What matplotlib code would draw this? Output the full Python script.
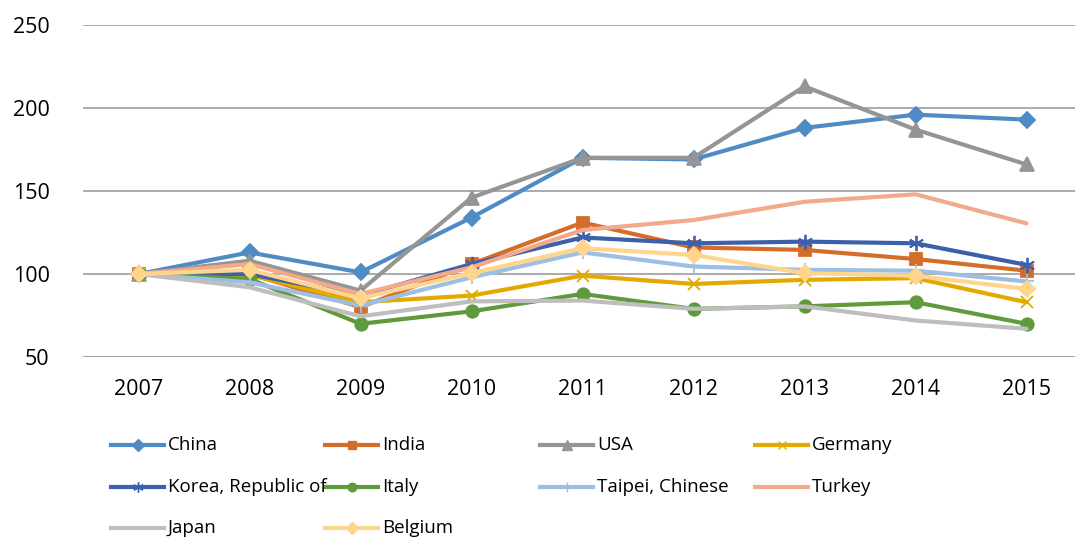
import matplotlib
matplotlib.use("Agg")
import matplotlib.pyplot as plt
from matplotlib.lines import Line2D

plt.rcParams['font.family'] = ['Open Sans', 'DejaVu Sans']

years = ["2007", "2008", "2009", "2010", "2011", "2012", "2013", "2014", "2015"]

china = [100, 113, 101, 134, 170, 169, 188, 196, 193]
india = [100, 100, 80, 106, 131, 116, 114.5, 109, 102]
usa = [100, 108, 90, 146, 170, 170, 213, 187, 166]
germany = [100, 99.5, 83, 87, 99, 94, 96.5, 97.5, 83]
korea = [100, 100, 87, 106, 122, 118.5, 119.5, 118.5, 105.5]
italy = [100, 97, 70, 77.5, 88, 79, 80.5, 83, 70]
taipei = [100, 95, 81, 98, 113, 104.5, 102.5, 102, 95.5]
turkey = [100, 106, 88, 104, 126.5, 132.5, 143.5, 148, 130.5]
japan = [100, 92, 74.5, 83.5, 84, 79, 80.5, 72, 67]
belgium = [100, 102.5, 85.5, 100.5, 115.5, 111.5, 100.5, 99, 91]

yticks = [50, 100, 150, 200, 250]

series = [
    ("China", china, "#4F8BC4", "D", 8.5),
    ("India", india, "#D56D2A", "s", 9),
    ("USA", usa, "#959595", "^", 10),
    ("Germany", germany, "#E2AA00", "x", 9),
    ("Korea, Republic of", korea, "#3C60AA", (6, 2, 0), 11),
    ("Italy", italy, "#5F9A3D", "o", 9),
    ("Taipei, Chinese", taipei, "#9CBFE3", "+", 10),
    ("Turkey", turkey, "#F2A98C", None, 0),
    ("Japan", japan, "#BEBEBE", None, 0),
    ("Belgium", belgium, "#FFD48C", "D", 8.5),
]

fig = plt.figure(figsize=(10.75, 5.38), dpi=100)
ax = fig.add_axes([83 / 1075, 1 - 357 / 538, 999 / 1075, 332 / 538])

x = list(range(len(years)))
for name, vals, color, marker, ms in series:
    kw = dict(color=color, lw=3.0, solid_joinstyle="round", solid_capstyle="round")
    if marker is not None:
        kw.update(marker=marker, markersize=ms, markerfacecolor=color,
                  markeredgecolor=color, markeredgewidth=1.3)
    ax.plot(x, vals, **kw)

ax.set_xlim(-0.5, len(years) - 0.5)
ax.set_ylim(50, 250)
ax.set_yticks(yticks)
ax.set_xticks(x)
ax.set_xticklabels(years)
ax.yaxis.grid(True, color="#A5A5A5", lw=1.3)
ax.set_axisbelow(True)
for s in ax.spines.values():
    s.set_visible(False)
ax.tick_params(axis="both", length=0, labelsize=15.5, colors="black")
ax.tick_params(axis="y", pad=24)
ax.tick_params(axis="x", pad=16)
ax.axhline(50, color="#A5A5A5", lw=1.3, zorder=0)

# Legend laid out as a 4-column grid, filled row by row
col_x = [111, 325, 540, 755]
row_y = [445, 487, 528]
W, H = 1075, 538
for i, (name, vals, color, marker, ms) in enumerate(series):
    r, c = divmod(i, 4)
    x0 = col_x[c]
    y0 = row_y[r]
    fy = 1 - y0 / H
    line = Line2D([x0 / W, (x0 + 53) / W], [fy, fy], transform=fig.transFigure,
                  color=color, lw=3.0)
    fig.add_artist(line)
    if marker is not None:
        mk = Line2D([(x0 + 26.5) / W], [fy], transform=fig.transFigure,
                    marker=marker, markersize=ms * 0.68, color=color,
                    markerfacecolor=color, markeredgecolor=color,
                    markeredgewidth=1.0, linestyle="none")
        fig.add_artist(mk)
    fig.text((x0 + 57) / W, fy, name, fontsize=13.5, va="center", ha="left")

fig.savefig("out.png", dpi=100)
